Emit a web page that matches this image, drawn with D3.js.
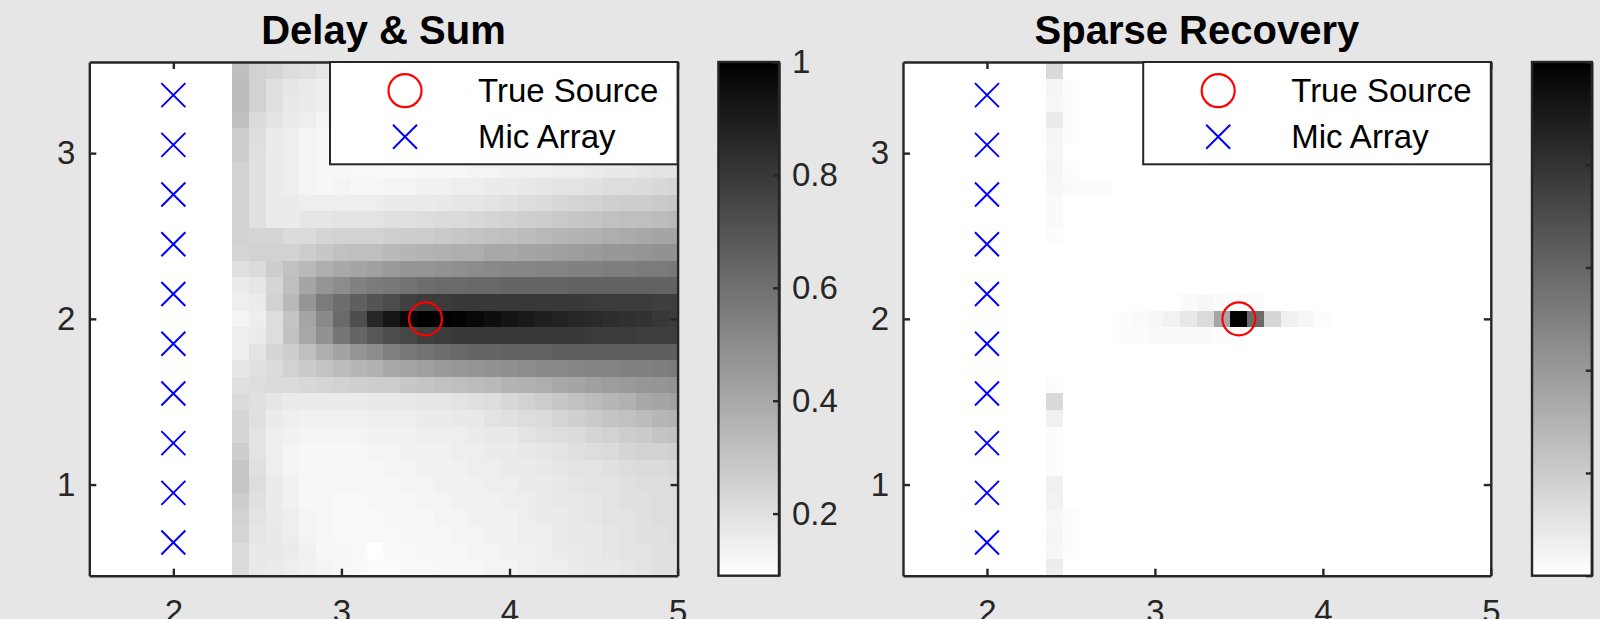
<!DOCTYPE html>
<html>
<head>
<meta charset="utf-8">
<script src="https://cdn.jsdelivr.net/npm/d3@7"></script>
<style>
	body { margin: 0; background: #e6e6e6; }
	text { font-family: Arial, "Liberation Sans", sans-serif; }
</style>
</head>
<body>
<div id="chart"></div>
<script>
// grid of candidate source positions (cell centres)
var xCenters = [2.4, 2.5, 2.6, 2.7, 2.8, 2.9, 3.0, 3.1, 3.2, 3.3, 3.4, 3.5, 3.6, 3.7,
	3.8, 3.9, 4.0, 4.1, 4.2, 4.3, 4.4, 4.5, 4.6, 4.7, 4.8, 4.9, 5.0];
var yCenters = [3.5, 3.4, 3.3, 3.2, 3.1, 3.0, 2.9, 2.8, 2.7, 2.6, 2.5, 2.4, 2.3, 2.2, 2.1,
	2.0, 1.9, 1.8, 1.7, 1.6, 1.5, 1.4, 1.3, 1.2, 1.1, 1.0, 0.9, 0.8, 0.7, 0.6, 0.5];

// delay & sum map, % of peak, one row per yCenters entry
var dsPower = [
	[32,25,24,21,20,18,17,16,15,15,14,14,14,14,13,13,13,13,13,14,14,14,14,14,15,15,15],
	[33,25,20,18,16,15,15,14,14,13,13,13,12,12,12,12,12,13,13,13,13,14,14,14,15,15,15],
	[33,25,20,17,16,15,14,13,13,12,12,12,12,12,12,12,12,12,13,13,14,14,14,15,15,15,16],
	[32,22,19,16,15,13,12,12,12,12,11,11,11,12,12,12,12,12,13,13,14,14,14,15,15,16,16],
	[27,21,16,15,13,12,11,11,11,11,11,11,11,11,12,12,12,12,13,13,14,14,15,15,16,16,16],
	[27,20,16,15,13,12,11,11,11,11,11,11,11,11,12,12,12,13,13,14,14,15,15,16,16,17,17],
	[25,20,16,15,13,12,12,11,11,11,11,12,12,12,13,13,14,14,14,15,15,16,17,17,18,19,19],
	[25,20,16,15,13,12,13,12,12,13,13,14,14,15,15,16,16,17,18,19,19,20,21,21,22,23,24],
	[25,20,16,16,15,15,15,15,15,16,16,16,17,18,18,19,20,21,22,23,24,25,26,27,27,28,29],
	[25,20,16,16,18,18,19,19,19,20,20,21,22,22,23,24,25,26,27,28,29,30,31,32,32,33,34],
	[25,24,24,22,22,24,25,25,25,26,27,27,28,29,30,31,32,33,34,35,36,37,38,39,40,41,41],
	[24,25,25,25,27,29,31,32,32,34,35,36,37,38,38,40,40,41,42,43,44,45,46,46,47,48,48],
	[20,22,27,31,34,38,40,41,43,45,47,47,48,49,50,51,52,52,53,53,54,54,55,55,56,56,57],
	[16,18,24,32,41,47,50,54,56,57,59,61,62,62,63,63,64,64,64,64,65,65,65,65,65,65,65],
	[15,16,25,34,47,56,61,66,70,73,77,79,79,80,80,80,80,80,80,80,80,79,79,79,79,78,78],
	[13,15,21,30,41,51,62,72,86,92,97,100,100,99,97,95,93,91,89,88,86,85,84,83,82,80,79],
	[15,16,21,31,40,48,58,64,69,72,75,78,79,80,80,80,80,80,80,80,80,79,79,79,78,78,78],
	[15,19,24,27,32,38,42,47,50,54,57,59,61,63,64,64,65,65,65,66,66,66,66,66,66,66,66],
	[18,20,22,25,28,30,33,35,37,40,41,43,45,46,47,48,49,50,51,51,52,53,53,54,54,55,56],
	[20,21,22,22,23,24,25,26,27,27,29,30,31,32,33,34,36,37,38,40,41,43,44,45,46,47,48],
	[22,20,18,16,16,16,16,16,17,17,17,18,18,19,20,21,23,25,27,29,31,33,35,37,40,41,43],
	[24,20,16,15,14,14,14,14,15,15,15,16,16,17,17,19,20,21,22,24,26,28,30,31,33,35,36],
	[24,19,15,14,13,13,13,13,14,14,14,15,15,15,16,17,17,19,20,21,22,24,25,27,28,30,31],
	[27,19,15,13,12,12,12,12,13,13,14,14,14,15,15,16,16,17,18,19,20,21,22,24,25,25,26],
	[29,20,15,13,12,12,12,12,12,13,13,14,14,14,15,15,16,16,17,18,19,19,20,21,22,22,23],
	[29,21,16,14,12,12,12,12,12,12,13,13,14,14,14,15,15,16,16,17,18,19,19,20,21,21,22],
	[27,20,16,14,12,12,11,11,12,12,12,13,13,14,14,14,15,15,16,17,17,18,19,20,20,21,21],
	[25,19,16,15,13,12,11,11,11,12,12,12,13,13,14,14,14,15,16,16,17,18,19,19,20,21,21],
	[24,18,17,15,13,12,11,11,11,11,12,12,12,13,13,14,14,15,15,16,17,17,18,19,20,20,21],
	[22,17,17,16,14,12,12,11,9,11,11,12,12,12,13,13,14,14,15,16,16,17,18,19,19,20,20],
	[22,17,16,15,14,13,12,11,10,10,11,11,12,12,12,13,13,14,15,15,16,17,17,18,19,20,20]
];

// sparse recovery: only the non-zero cells, % of peak
var srX = [2.4,2.4,2.4,2.4,2.4,2.4,2.4,2.4,2.4,2.4,2.4,2.4,2.4,2.4,2.4,2.4,2.4,2.4,2.4,2.4,2.4,2.4,2.4,
	2.5,2.5,2.5,2.5,2.5,2.5,2.5,2.5,2.5, 2.6,2.7,
	2.8,2.9,3.0,3.1,3.2,3.3,3.4,3.5,3.6,3.7,3.8,3.9,4.0,
	3.2,3.3,3.4,3.5,3.6,
	2.8,2.9,3.0,3.1,3.2,3.3,3.4,3.5];
var srY = [3.5,3.4,3.3,3.2,3.1,3.0,2.9,2.8,2.7,2.6,2.5,1.6,1.5,1.4,1.3,1.2,1.1,1.0,0.9,0.8,0.7,0.6,0.5,
	3.4,3.3,3.2,3.1,2.9,2.8,0.8,0.7,0.6, 2.8,2.8,
	2.0,2.0,2.0,2.0,2.0,2.0,2.0,2.0,2.0,2.0,2.0,2.0,2.0,
	2.1,2.1,2.1,2.1,2.1,
	1.9,1.9,1.9,1.9,1.9,1.9,1.9,1.9];
var srPower = [15,4,3,8,4,3,4,3,2,2,1,1,15,6,1,1,1,6,5,3,4,3,7,
	1,1,1,1,1,2,1,1,1, 1,1,
	1,2,3,5,9,14,35,100,58,16,6,3,1,
	2,3,2,2,1,
	1,1,2,2,2,2,1,1];

var micX = 2;
var micY = [3.35, 3.05, 2.75, 2.45, 2.15, 1.85, 1.55, 1.25, 0.95, 0.65];
var sourceX = 3.5, sourceY = 2.0;

var xTicks = [2, 3, 4, 5];
var yTicks = [1, 2, 3];
var legendLabels = ["True Source", "Mic Array"];

var svgWidth = 1600, svgHeight = 619;
var axTop = 62, axBottom = 575.7;
var xLimits = [1.5, 5], yLimits = [0.45, 3.55];
var ink = "#262626";

var svg = d3.select("#chart").append("svg")
	.attr("width", svgWidth)
	.attr("height", svgHeight);
svg.append("rect").attr("width", svgWidth).attr("height", svgHeight).attr("fill", "#e6e6e6");
var defs = svg.append("defs");

// build cell lists
var dsCells = [];
yCenters.forEach(function(y, r) {
	xCenters.forEach(function(x, c) {
		dsCells.push({x: x, y: y, v: dsPower[r][c] / 100});
	});
});
var srLookup = {};
srX.forEach(function(x, i) { srLookup[x.toFixed(1) + "_" + srY[i].toFixed(1)] = srPower[i] / 100; });
var srCells = [];
yCenters.forEach(function(y) {
	xCenters.forEach(function(x) {
		srCells.push({x: x, y: y, v: srLookup[x.toFixed(1) + "_" + y.toFixed(1)] || 0});
	});
});

var panels = [
	{title: "Delay & Sum", left: 89.3, right: 677.6, cbLeft: 718.4, cbRight: 779,
		cells: dsCells, cLim: d3.extent(dsCells, d => d.v), cbTicks: [0.2, 0.4, 0.6, 0.8, 1]},
	{title: "Sparse Recovery", left: 903, right: 1490.8, cbLeft: 1532, cbRight: 1591.8,
		cells: srCells, cLim: [0, 1], cbTicks: [0, 0.2, 0.4, 0.6, 0.8, 1]}
];

var plainNum = d => String(d);

function styleAxis(sel) {
	sel.attr("color", ink)
		.attr("font-size", 33)
		.attr("font-family", "Arial, 'Liberation Sans', sans-serif");
	sel.selectAll("line, path").attr("stroke-width", 2.4);
	sel.selectAll("text").attr("fill", ink);
}

function crossPath(cx, cy, s) {
	return `M${cx - s},${cy - s}L${cx + s},${cy + s}M${cx - s},${cy + s}L${cx + s},${cy - s}`;
}

panels.forEach(function(p, i) {
	var xScale = d3.scaleLinear().domain(xLimits).range([p.left, p.right]);
	var yScale = d3.scaleLinear().domain(yLimits).range([axBottom, axTop]);
	var color = d3.scaleLinear().domain(p.cLim).range(["#ffffff", "#000000"]);

	var g = svg.append("g");

	defs.append("clipPath").attr("id", "clip" + i)
		.append("rect")
		.attr("x", p.left).attr("y", axTop)
		.attr("width", p.right - p.left).attr("height", axBottom - axTop);

	g.append("rect")
		.attr("x", p.left).attr("y", axTop)
		.attr("width", p.right - p.left).attr("height", axBottom - axTop)
		.attr("fill", "#ffffff");

	// heat map cells
	g.append("g")
		.attr("clip-path", `url(#clip${i})`)
		.selectAll("rect")
		.data(p.cells)
		.enter()
		.append("rect")
		.attr("x", d => xScale(d.x - 0.05))
		.attr("y", d => yScale(d.y + 0.05))
		.attr("width", d => xScale(d.x + 0.05) - xScale(d.x - 0.05) + 0.4)
		.attr("height", d => yScale(d.y - 0.05) - yScale(d.y + 0.05) + 0.4)
		.attr("fill", d => color(d.v))
		.attr("shape-rendering", "crispEdges");

	// axes (ticks inside, box all round)
	var bottomAxis = g.append("g")
		.attr("transform", `translate(0, ${axBottom})`)
		.call(d3.axisBottom(xScale).tickValues(xTicks).tickSizeInner(-7).tickSizeOuter(0)
			.tickPadding(24).tickFormat(plainNum));
	styleAxis(bottomAxis);
	var topAxis = g.append("g")
		.attr("transform", `translate(0, ${axTop})`)
		.call(d3.axisTop(xScale).tickValues(xTicks).tickSizeInner(-7).tickSizeOuter(0).tickFormat(""));
	styleAxis(topAxis);
	var leftAxis = g.append("g")
		.attr("transform", `translate(${p.left}, 0)`)
		.call(d3.axisLeft(yScale).tickValues(yTicks).tickSizeInner(-7).tickSizeOuter(0)
			.tickPadding(14).tickFormat(plainNum));
	styleAxis(leftAxis);
	var rightAxis = g.append("g")
		.attr("transform", `translate(${p.right}, 0)`)
		.call(d3.axisRight(yScale).tickValues(yTicks).tickSizeInner(-7).tickSizeOuter(0).tickFormat(""));
	styleAxis(rightAxis);

	// microphones
	g.selectAll("path.mic")
		.data(micY)
		.enter()
		.append("path")
		.attr("class", "mic")
		.attr("d", d => crossPath(xScale(micX), yScale(d), 12))
		.attr("stroke", "#0000ff")
		.attr("stroke-width", 2)
		.attr("fill", "none");

	// true source
	g.append("circle")
		.attr("cx", xScale(sourceX))
		.attr("cy", yScale(sourceY))
		.attr("r", 16.5)
		.attr("stroke", "#ff0000")
		.attr("stroke-width", 2.2)
		.attr("fill", "none");

	// title
	g.append("text")
		.attr("x", (p.left + p.right) / 2)
		.attr("y", 44)
		.attr("text-anchor", "middle")
		.attr("font-size", 40)
		.attr("font-weight", "bold")
		.attr("fill", "#000")
		.text(p.title);

	// legend
	var legW = 347.6, legH = 102.3;
	var leg = g.append("g").attr("transform", `translate(${p.right - legW}, ${axTop})`);
	leg.append("rect")
		.attr("width", legW).attr("height", legH)
		.attr("fill", "#ffffff")
		.attr("stroke", ink)
		.attr("stroke-width", 2);
	leg.append("circle")
		.attr("cx", 75).attr("cy", 28.7).attr("r", 16.5)
		.attr("stroke", "#ff0000").attr("stroke-width", 2.2).attr("fill", "none");
	leg.append("path")
		.attr("d", crossPath(75, 74.7, 12))
		.attr("stroke", "#0000ff").attr("stroke-width", 2).attr("fill", "none");
	leg.selectAll("text")
		.data(legendLabels)
		.enter()
		.append("text")
		.attr("x", 148)
		.attr("y", (d, k) => 28.7 + k * 46 + 11.5)
		.attr("font-size", 33)
		.attr("fill", "#000")
		.text(d => d);

	// colour bar
	var cbScale = d3.scaleLinear().domain(p.cLim).range([axBottom, axTop]);
	var grad = defs.append("linearGradient")
		.attr("id", "cbGrad" + i)
		.attr("x1", 0).attr("y1", 1).attr("x2", 0).attr("y2", 0);
	grad.append("stop").attr("offset", 0).attr("stop-color", color(p.cLim[0]));
	grad.append("stop").attr("offset", 1).attr("stop-color", color(p.cLim[1]));
	g.append("rect")
		.attr("x", p.cbLeft).attr("y", axTop)
		.attr("width", p.cbRight - p.cbLeft).attr("height", axBottom - axTop)
		.attr("fill", `url(#cbGrad${i})`)
		.attr("stroke", ink)
		.attr("stroke-width", 2.4);
	var cbAxis = g.append("g")
		.attr("transform", `translate(${p.cbRight}, 0)`)
		.call(d3.axisRight(cbScale).tickValues(p.cbTicks).tickSizeInner(-6).tickSizeOuter(0)
			.tickPadding(13).tickFormat(plainNum));
	styleAxis(cbAxis);
});
</script>
</body>
</html>
